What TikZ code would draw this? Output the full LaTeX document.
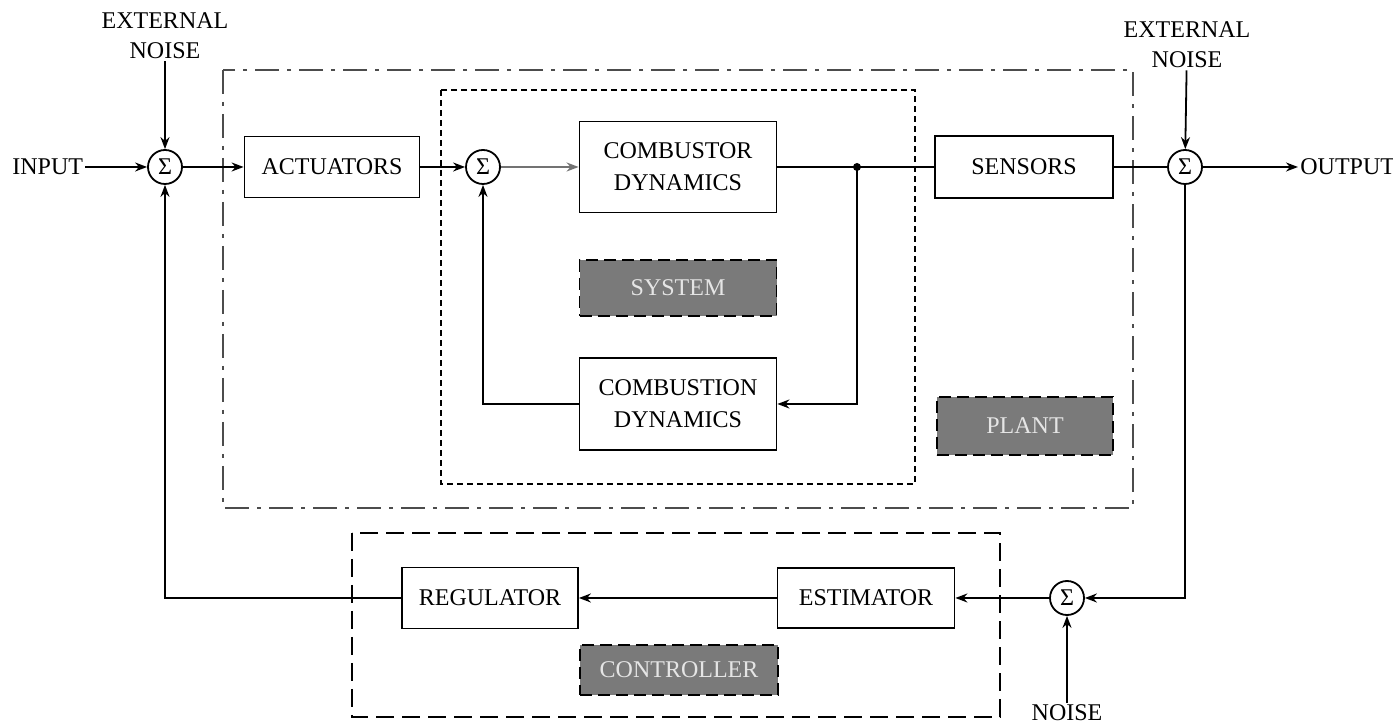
\documentclass[tikz,border=0pt]{standalone}
\usepackage{fontspec}
\setmainfont{Liberation Serif}
\usetikzlibrary{arrows.meta}

\tikzset{
  blk/.style={draw, line width=0.9pt, align=center, inner sep=1pt,
    font=\fontsize{12}{16}\selectfont},
  tag/.style={draw, line width=0.9pt, dash pattern=on 6pt off 3pt,
    fill=black!52, text=white!90!black, inner sep=1pt,
    font=\fontsize{12}{15}\selectfont},
  summ/.style={draw, circle, line width=0.9pt, minimum size=17pt, inner sep=0pt,
    font=\fontsize{12}{14}\selectfont},
  lbl/.style={align=center, inner sep=1pt, font=\fontsize{12}{15}\selectfont},
  sig/.style={line width=0.9pt},
  >={Stealth[length=6pt,width=4.5pt]}
}

\begin{document}
\begin{tikzpicture}[x=0.5pt, y=-0.5pt]
\useasboundingbox (0,0) rectangle (1393,726);

% containers
\draw[line width=0.9pt, black!70, dash pattern=on 12pt off 4pt on 2pt off 4pt]
  (223,70) rectangle (1133,508);
\draw[line width=0.9pt, dash pattern=on 3pt off 2pt] (441,90) rectangle (915,484);
\draw[line width=0.9pt, dash pattern=on 9pt off 4pt] (352,533) rectangle (1000,717);

% blocks
\node[blk, minimum width=87.5pt, minimum height=30.5pt] (act) at (332,167) {ACTUATORS};
\node[blk, minimum width=98.5pt, minimum height=45.5pt] (cbr) at (678,167) {COMBUSTOR\\DYNAMICS};
\node[blk, minimum width=98.5pt, minimum height=46pt] (cbn) at (678,404) {COMBUSTION\\DYNAMICS};
\node[blk, minimum width=89pt, minimum height=31pt] (sen) at (1024,167) {SENSORS};
\node[blk, minimum width=88pt, minimum height=30.5pt] (reg) at (490,598) {REGULATOR};
\node[blk, minimum width=88.5pt, minimum height=30pt] (est) at (866,598) {ESTIMATOR};

% gray tags
\node[tag, minimum width=98.5pt, minimum height=28pt] (sys) at (678,288) {SYSTEM};
\node[tag, minimum width=88pt, minimum height=29pt] (plt) at (1025,426) {PLANT};
\node[tag, minimum width=99pt, minimum height=25pt] (ctl) at (679,670) {CONTROLLER};

% summing points
\node[summ] (s1) at (165,167) {Σ};
\node[summ] (s2) at (483,167) {Σ};
\node[summ] (s3) at (1185,167) {Σ};
\node[summ] (s4) at (1067,598) {Σ};

% labels
\node[lbl, anchor=west] (in) at (10,167) {INPUT};
\node[lbl, anchor=west] (out) at (1298,167) {OUTPUT};
\node[lbl] (en1) at (165,36) {EXTERNAL\\NOISE};
\node[lbl] (en2) at (1187,45) {EXTERNAL\\NOISE};
\node[lbl] (nz) at (1067,713) {NOISE};

\coordinate (jn) at (857,167);
\fill (jn) circle (2pt);

% forward path
\draw[sig, ->] (in) -- (s1);
\draw[sig, ->] (en1) -- (s1);
\draw[sig, ->] (s1) -- (act);
\draw[sig, ->] (act) -- (s2);
\draw[sig, ->, black!55, line width=1.3pt] (s2) -- (cbr);
\draw[sig] (cbr) -- (jn) -- (sen);
\draw[sig] (sen) -- (s3);
\draw[sig, ->] (s3) -- (out);
\draw[sig, ->] (en2) -- (s3);

% inner loop
\draw[sig, ->] (jn) |- (cbn);
\draw[sig, ->] (cbn) -| (s2);

% control loop
\draw[sig, ->] (s3) |- (s4);
\draw[sig, ->] (nz) -- (s4);
\draw[sig, ->] (s4) -- (est);
\draw[sig, ->] (est) -- (reg);
\draw[sig, ->] (reg) -| (s1);
\end{tikzpicture}
\end{document}
